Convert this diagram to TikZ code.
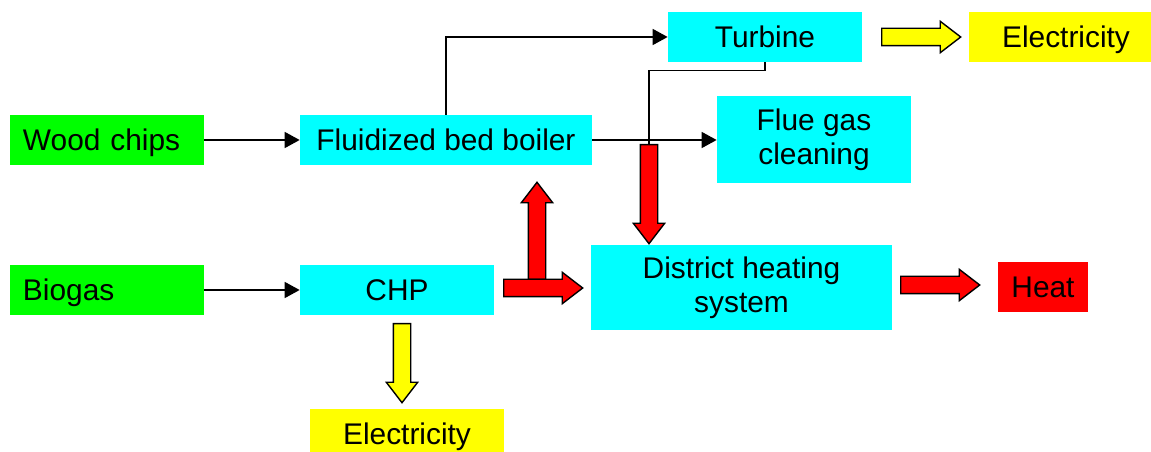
\documentclass[tikz,border=0pt]{standalone}
\usepackage{fontspec}
\setmainfont{Liberation Sans}
\usetikzlibrary{shapes.arrows, positioning, arrows.meta}

\definecolor{fuelgreen}{RGB}{0,255,0}
\definecolor{unitcyan}{RGB}{0,255,255}
\definecolor{powyellow}{RGB}{255,255,0}
\definecolor{heatred}{RGB}{255,0,0}

\begin{document}
\begin{tikzpicture}[
          font=\fontsize{17}{19.5}\selectfont,
          % Base node styles
          box/.style={rectangle, align=center, minimum height=1cm, inner sep=0.1cm},
          oneline/.style={text height=12.2pt, text depth=0pt},
          % Specific styles based on the image's color scheme
          fuel/.style={box, oneline, fill=fuelgreen, text width=3.36cm, inner xsep=0.26cm, align=left},
          unit/.style={box, fill=unitcyan, minimum width=3.88cm},
          power/.style={box, oneline, fill=powyellow, minimum width=3.88cm},
          heatbox/.style={box, oneline, fill=heatred, minimum width=1.8cm},
          % Arrow styles
          flow/.style={-{Triangle[length=0.3cm, width=0.32cm]}, line width=0.9pt},
          plain/.style={line width=0.9pt},
          blockarrow/.style={single arrow, draw=black, thick, inner xsep=0pt, inner ysep=0.16cm, anchor=tail,
                             single arrow head extend=0.14cm, single arrow tip angle=75, minimum height=1.58cm},
          redarrow/.style={blockarrow, fill=heatred},
          yellowarrow/.style={blockarrow, fill=powyellow}
        ]
          \useasboundingbox (0,0) rectangle (23.02,-9.04);

          % ==========================================
          % 1. Left Column: Fuels
          % ==========================================
          \node[fuel] (wood_chips) at (2.14,-2.80) {Wood chips};
          \node[fuel] (biogas) at (2.14,-5.80) {Biogas};

          % ==========================================
          % 2. Conversion Units
          % ==========================================
          \node[unit, oneline, minimum width=5.84cm] (fb_boiler) at (8.92,-2.80) {Fluidized bed boiler};
          \node[unit, oneline] (chp) at (7.94,-5.80) {CHP};
          \node[unit, oneline] (turbine) at (15.30,-0.74) {Turbine};
          \node[unit, minimum height=1.74cm] (flue_gas) at (16.28,-2.79) {Flue gas\\cleaning};
          \node[unit, minimum width=6.02cm, minimum height=1.7cm] (dh_system) at (14.83,-5.75) {District heating\\system};

          % ==========================================
          % 3. Products
          % ==========================================
          \node[power] (elec_top) at (21.32,-0.74) {Electricity};
          \node[power] (elec_chp) at (8.14,-8.68) {Electricity};
          \node[heatbox] (heat) at (20.86,-5.74) {Heat};

          % ==========================================
          % 4. Block Arrows (placed by their tails)
          % ==========================================
          \node[yellowarrow] (turbine_power) at (17.62,-0.74) {};
          \node[yellowarrow, rotate=-90] (chp_power) at (8.04,-6.46) {};
          \node[redarrow, minimum height=1.94cm, rotate=90] (chp_boiler) at (10.74,-5.60) {};
          \node[redarrow] (chp_heat) at (10.06,-5.76) {};
          \node[redarrow, minimum height=1.98cm, rotate=-90] (steam_heat) at (12.98,-2.88) {};
          \node[redarrow] (dh_heat) at (18.00,-5.70) {};

          % ==========================================
          % 5. Edges & Flow Routing
          % ==========================================
          \draw[flow] (wood_chips) -- (fb_boiler);
          \draw[flow] (biogas) -- (chp);
          \draw[flow] (fb_boiler.north) |- (turbine.west);
          \draw[flow] (fb_boiler.east) -- (flue_gas.west |- fb_boiler.east);

          % Steam back from the turbine
          \draw[plain] (turbine.south) -- ++(0,-0.16) -| (steam_heat.tail);
        \end{tikzpicture}
\end{document}
